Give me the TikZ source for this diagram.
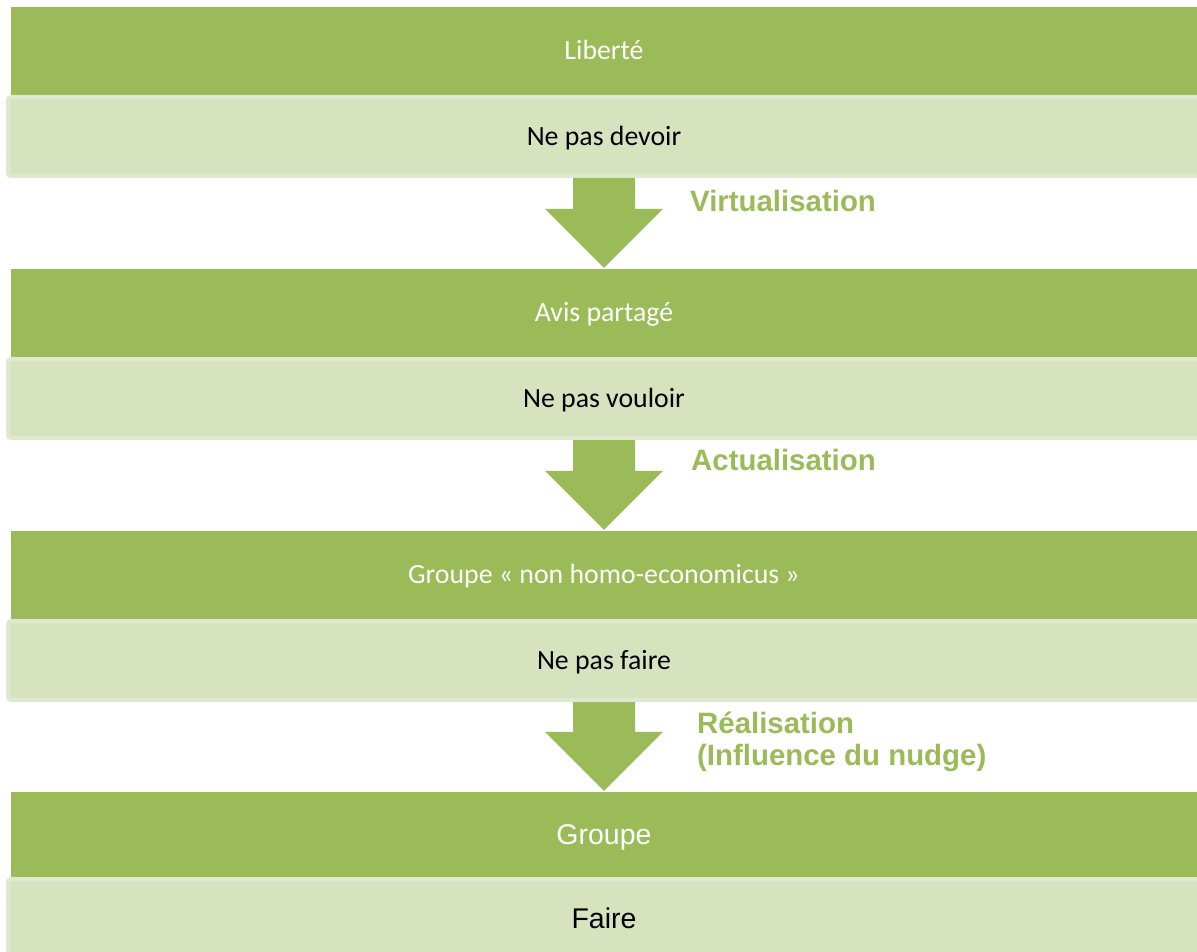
\documentclass[tikz,border=0pt]{standalone}
\usepackage{fontspec}
\setmainfont{Carlito}
\newfontfamily\arialfont{Liberation Sans}
\usetikzlibrary{calc}
\definecolor{darkgreen}{HTML}{9BBB59}
\definecolor{lightfill}{HTML}{D7E3BF}
\definecolor{lightrim}{HTML}{DFE8D0}
\tikzset{
  darkbox/.style={fill=darkgreen, text=white, minimum width=1186pt, minimum height=88pt, inner sep=0pt, text height=17.9pt, text depth=0pt, font=\fontsize{27.8}{32}\selectfont},
  lightbox/.style={fill=lightfill, draw=lightrim, line width=4pt, rounded corners=3pt, minimum width=1192pt, minimum height=79pt, inner sep=0pt, text=black, text height=17.9pt, text depth=0pt, font=\fontsize{27.8}{32}\selectfont},
  arialtext/.style={text height=20.4pt, text depth=0pt, font=\arialfont\fontsize{28.5}{33}\selectfont},
  steplabel/.style={anchor=west, text=darkgreen, inner sep=0pt, align=left, font=\arialfont\bfseries\fontsize{29.4}{35}\selectfont},
  arrowfill/.style={fill=darkgreen},
}
\begin{document}
\begin{tikzpicture}[x=1pt,y=-1pt]
\useasboundingbox (0,0) rectangle (1197,952);
\clip (0,0) rectangle (1197,952);
\fill[white] (0,0) rectangle (1197,952);

% blocks
\node[darkbox] (d1) at (604,51) {Liberté};
\node[lightbox] (l1) at (604,136.5) {Ne pas devoir};
\node[darkbox] (d2) at (604,313) {Avis partagé};
\node[lightbox] (l2) at (604,398.5) {Ne pas vouloir};
\node[darkbox] (d3) at (604,575) {Groupe « non homo-economicus »};
\node[lightbox] (l3) at (604,660.5) {Ne pas faire};
\node[darkbox, minimum height=85pt, arialtext, text=white] (d4) at (604,834.5) {Groupe};
\node[lightbox, arialtext] (l4) at (604,918.5) {Faire};

% block arrows
\foreach \a/\b in {l1/d2, l2/d3, l3/d4}{
  \fill[arrowfill]
    ($(\a.south)+(-31,0)$) -- ($(\b.north)+(-31,-60)$) -- ($(\b.north)+(-59,-60)$)
    -- ($(\b.north)+(0,-1)$)
    -- ($(\b.north)+(59,-60)$) -- ($(\b.north)+(31,-60)$) -- ($(\a.south)+(31,0)$) -- cycle;
}

% labels
\node[steplabel] (t1) at (690,201) {Virtualisation};
\node[steplabel] (t2) at (691,460) {Actualisation};
\node[steplabel] (t3) at (697,723) {Réalisation};
\node[steplabel] (t4) at (697,758) {(Influence du nudge)};
\end{tikzpicture}
\end{document}
